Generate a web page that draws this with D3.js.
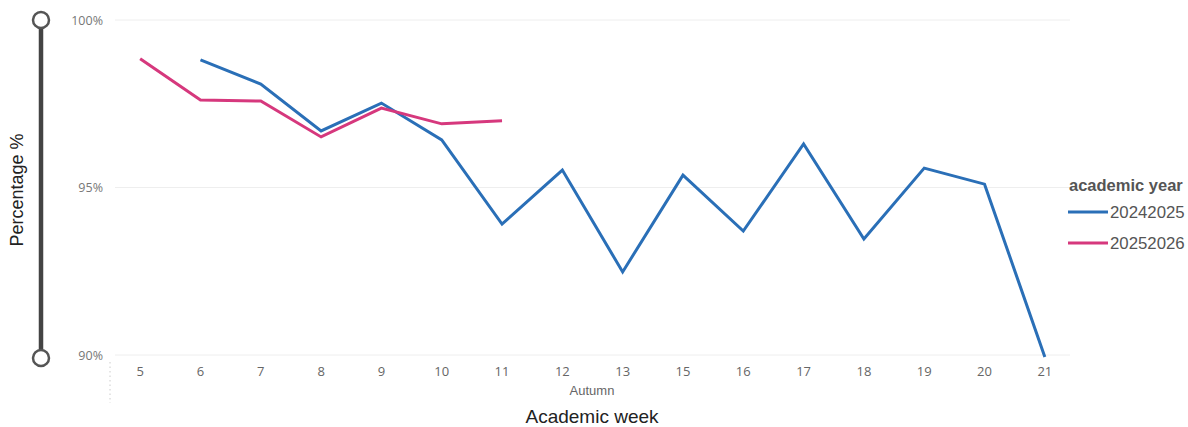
<!DOCTYPE html>
<html><head><meta charset="utf-8">
<script src="https://cdn.jsdelivr.net/npm/d3@7"></script>
<style>body{margin:0;background:#fff;font-family:"Liberation Sans",Arial,sans-serif;}</style>
</head><body><svg id="c" width="1188" height="427"></svg>
<script>
const weeks = ["5","6","7","8","9","10","11","12","13","15","16","17","18","19","20","21"];
const yTicks = [90, 95, 100];
const seriesNames = ["20242025", "20252026"];
const seriesColors = ["#2a6fb7", "#d6387d"];
const weeks2024 = ["6","7","8","9","10","11","12","13","15","16","17","18","19","20","21"];
const values2024 = [98.81, 98.09, 96.69, 97.52, 96.42, 93.91, 95.52, 92.48, 95.37, 93.70, 96.30, 93.46, 95.58, 95.10, 89.94];
const weeks2025 = ["5","6","7","8","9","10","11"];
const values2025 = [98.84, 97.61, 97.58, 96.51, 97.37, 96.90, 96.99];

const svg = d3.select("#c");
const x = d3.scaleBand().domain(weeks).range([110, 1075]);
const y = d3.scaleLinear().domain([90, 100]).range([355, 20]);
const cx = d => x(d) + x.bandwidth()/2;
const tickFont = '"Open Sans","Segoe UI",sans-serif';

svg.append("g").selectAll("line").data(yTicks).join("line")
  .attr("x1", 115).attr("x2", 1070).attr("y1", d=>y(d)).attr("y2", d=>y(d))
  .attr("stroke", "#eeeeee").attr("stroke-width", 1);
svg.append("g").selectAll("text").data(yTicks).join("text")
  .attr("x", 103).attr("y", d=>y(d)+4.5).attr("text-anchor","end").attr("font-family",tickFont)
  .attr("font-size", 12.5).attr("fill", "#777").text(d=>d+"%");
svg.append("line").attr("x1",41).attr("x2",41).attr("y1",y(100)).attr("y2",358)
  .attr("stroke","#444").attr("stroke-width",4.5);
[y(100), 358].forEach(cy => svg.append("circle").attr("cx",41).attr("cy",cy).attr("r",8)
  .attr("fill","#fff").attr("stroke","#555").attr("stroke-width",2.5));
svg.append("text").attr("transform","translate(23,190) rotate(-90)").attr("text-anchor","middle")
  .attr("font-size",18).attr("fill","#222").text("Percentage %");
svg.append("g").selectAll("text").data(weeks).join("text")
  .attr("x", d=>cx(d)).attr("y", 376).attr("text-anchor","middle").attr("font-family",tickFont)
  .attr("font-size",13).attr("fill","#666").text(d=>d);
svg.append("line").attr("x1",110).attr("x2",110).attr("y1",362).attr("y2",403)
  .attr("stroke","#ccc").attr("stroke-dasharray","1.5,3");
svg.append("text").attr("x",592).attr("y",395).attr("text-anchor","middle")
  .attr("font-size",13).attr("fill","#666").text("Autumn");
svg.append("text").attr("x",592).attr("y",423).attr("text-anchor","middle")
  .attr("font-size",19).attr("fill","#222").text("Academic week");

const line = d3.line().x(d=>cx(d[0])).y(d=>y(d[1]));
const data = [d3.zip(weeks2024, values2024), d3.zip(weeks2025, values2025)];
data.forEach((pts,i) => svg.append("path").datum(pts).attr("d", line)
  .attr("fill","none").attr("stroke", seriesColors[i]).attr("stroke-width",3));

svg.append("text").attr("x",1069).attr("y",191).attr("font-size",16.5).attr("font-weight","bold")
  .attr("fill","#555").text("academic year");
seriesNames.forEach((n,i) => {
  const ly = 212 + i*31;
  svg.append("line").attr("x1",1068).attr("x2",1108).attr("y1",ly).attr("y2",ly)
    .attr("stroke",seriesColors[i]).attr("stroke-width",3);
  svg.append("text").attr("x",1110).attr("y",ly+6).attr("font-size",16.8).attr("fill","#555").text(n);
});
</script></body></html>
